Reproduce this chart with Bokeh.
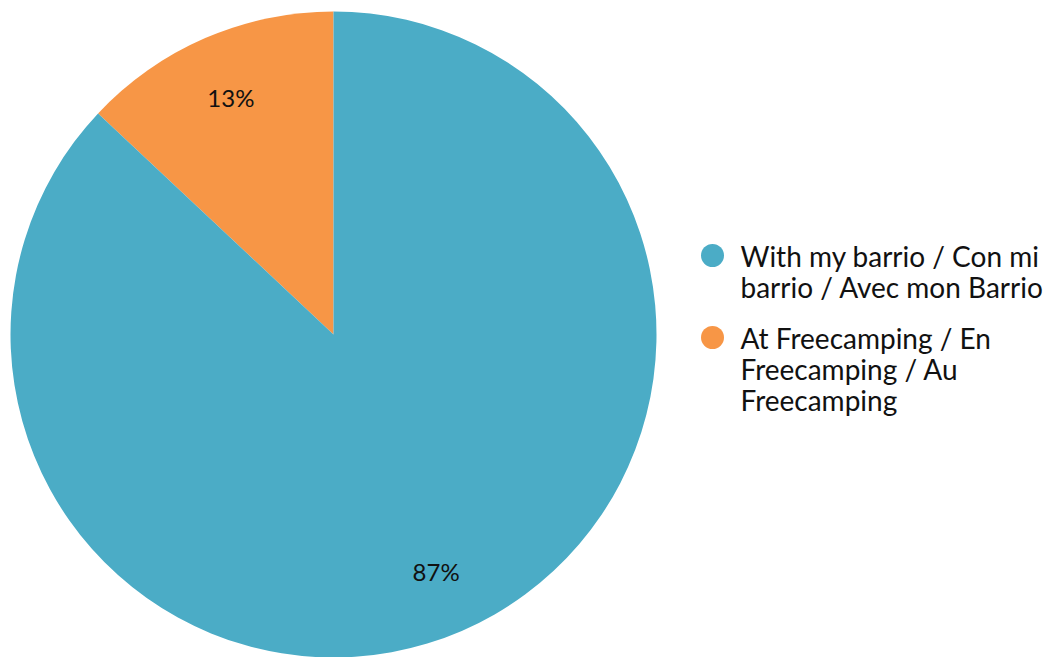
import math
from bokeh.plotting import figure
from bokeh.models import Range1d
from bokeh.core.properties import value
from bokeh.embed import file_html
from bokeh.resources import INLINE

categories = ["With my barrio / Con mi barrio / Avec mon Barrio",
              "At Freecamping / En Freecamping / Au Freecamping"]
legend_lines = [["With my barrio / Con mi", "barrio / Avec mon Barrio"],
                ["At Freecamping / En", "Freecamping / Au", "Freecamping"]]
shares = [87, 13]
colors = ["#4BACC6", "#F79646"]

W, H = 1054, 657
p = figure(width=W, height=H, output_backend="svg", toolbar_location=None,
           x_range=Range1d(0, W), y_range=Range1d(0, H), min_border=0)
p.axis.visible = False
p.grid.visible = False
p.outline_line_color = None

cx, cy, r = 333, H - 334, 323
total = sum(shares)
# Slices start at 12 o'clock; the last category goes first counterclockwise
order = [1, 0]
start = math.pi / 2
for i in order:
    ang = shares[i] / total * 2 * math.pi
    end = start + ang
    p.wedge(x=cx, y=cy, radius=r, start_angle=start, end_angle=end,
            direction="anticlock", fill_color=colors[i], line_color=None)
    mid = (start + end) / 2
    p.text(x=[cx + 0.8 * r * math.cos(mid)], y=[cy + 0.8 * r * math.sin(mid)],
           text=[f"{shares[i]}%"], text_align="center", text_baseline="middle",
           text_font=value("Lato"), text_font_size="24px", text_color="#111111")
    start = end

# legend
ly = [H - 255, H - 337]
for i, lines in enumerate(legend_lines):
    p.scatter(x=[712], y=[ly[i]], size=23, marker="circle",
              fill_color=colors[i], line_color=None)
    for k, t in enumerate(lines):
        p.text(x=[740], y=[ly[i] - 31 * k], text=[t], text_align="left",
               text_baseline="middle", text_font=value("Lato"),
               text_font_size="28px", text_color="#111111")

open("out.html", "w").write(file_html(p, INLINE))
